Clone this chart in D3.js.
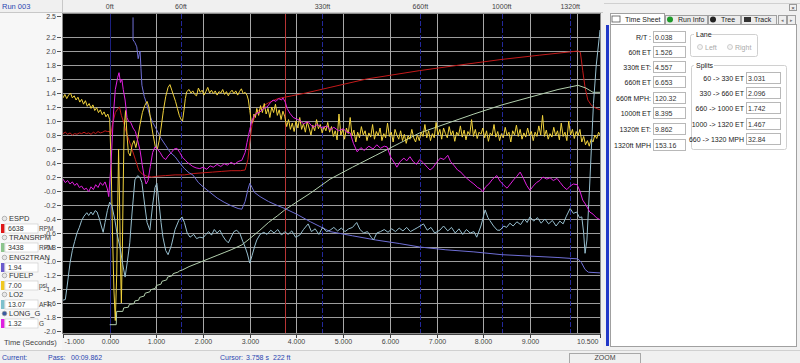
<!DOCTYPE html>
<html><head><meta charset="utf-8">
<script src="https://cdn.jsdelivr.net/npm/d3@7"></script>
<style>
html,body{margin:0;padding:0;background:#f0f0f0;overflow:hidden}
svg text{font-family:"Liberation Sans",Arial,sans-serif}
</style></head><body>
<svg id="c" width="800" height="363"></svg>
<script>
// ---------- data ----------
const xTickValues=[-1,0,1,2,3,4,5,6,7,8,9,10.5];
const xTickLabels=["-1.000","0.000","1.000","2.000","3.000","4.000","5.000","6.000","7.000","8.000","9.000","10.500"];
const yTickValues=[2.5,2.2,2.0,1.8,1.6,1.4,1.2,1.0,0.8,0.6,0.4,0.2,0,-0.2,-0.4,-0.6,-0.8,-1.0,-1.2,-1.4,-1.6,-1.8,-2.0];
const yTickLabels=["2.5","2.2","2.0","1.8","1.6","1.4","1.2","1.0","0.8","0.6","0.4","0.2","-0.0","-0.2","-0.4","-0.6","-0.8","-1.0","-1.2","-1.4","-1.6","-1.8","-2.0"];
const gridYValues=[2.2,2.0,1.8,1.6,1.4,1.2,1.0,0.8,0.6,0.4,0.2,0,-0.2,-0.4,-0.6,-0.8,-1.0,-1.2,-1.4,-1.6,-1.8];
const gridXValues=[1,2,3,4,5,6,7,8,9,10];
const markerNames=["0ft","60ft","330ft","660ft","1000ft","1320ft"];
const markerTimes=[0,1.526,4.557,6.653,8.395,9.862];
const cursorTime=3.758;

const espd=[[-1.00,0.82],[-0.95,0.84],[-0.90,0.81],[-0.85,0.83],[-0.80,0.80],[-0.75,0.82],[-0.70,0.81],[-0.65,0.83],[-0.60,0.82],[-0.55,0.84],[-0.50,0.82],[-0.45,0.83],[-0.40,0.81],[-0.35,0.84],[-0.30,0.82],[-0.25,0.85],[-0.20,0.83],[-0.15,0.84],[-0.10,0.86],[-0.05,0.85],[0.00,0.85],[0.02,0.80],[0.06,0.95],[0.12,1.12],[0.18,1.18],[0.21,1.20],[0.25,1.08],[0.30,0.98],[0.35,0.85],[0.45,0.65],[0.55,0.45],[0.62,0.30],[0.70,0.24],[0.80,0.21],[0.90,0.20],[1.00,0.21],[1.20,0.22],[1.40,0.23],[1.60,0.23],[1.80,0.25],[2.00,0.26],[2.20,0.27],[2.40,0.28],[2.60,0.29],[2.80,0.29],[2.90,0.30],[2.96,0.45],[3.00,0.70],[3.05,0.95],[3.10,1.05],[3.15,1.12],[3.22,1.17],[3.30,1.22],[3.40,1.26],[3.50,1.29],[3.60,1.32],[3.75,1.34],[3.90,1.36],[4.20,1.40],[4.72,1.48],[5.50,1.60],[6.64,1.72],[7.50,1.80],[8.40,1.88],[9.20,1.94],[10.03,2.00],[10.08,1.98],[10.13,1.72],[10.18,1.48],[10.24,1.30],[10.32,1.22],[10.42,1.18],[10.50,1.16]];

const transrpm=[[0.00,-1.91],[0.14,-1.91],[0.15,-1.72],[0.28,-1.72],[0.30,-1.67],[0.40,-1.66],[0.42,-1.62],[0.52,-1.61],[0.54,-1.57],[0.62,-1.56],[0.64,-1.52],[0.74,-1.50],[0.76,-1.46],[0.86,-1.44],[0.88,-1.41],[0.98,-1.39],[1.00,-1.35],[1.10,-1.33],[1.12,-1.29],[1.22,-1.27],[1.24,-1.23],[1.34,-1.21],[1.36,-1.18],[1.46,-1.16],[1.50,-1.14],[1.55,-1.13],[1.70,-1.08],[1.85,-1.04],[2.00,-1.00],[2.15,-0.96],[2.30,-0.92],[2.45,-0.88],[2.60,-0.84],[2.83,-0.77],[3.00,-0.68],[3.20,-0.57],[3.40,-0.45],[3.60,-0.35],[3.75,-0.27],[4.00,-0.16],[4.30,-0.03],[4.72,0.17],[5.20,0.34],[5.70,0.51],[6.20,0.68],[6.64,0.83],[7.20,0.96],[7.80,1.10],[8.40,1.23],[9.00,1.34],[9.60,1.45],[10.03,1.51],[10.20,1.47],[10.35,1.41],[10.50,1.41]];

const eng2tran=[[0.50,2.48],[0.50,2.16],[0.54,2.12],[0.58,2.06],[0.61,1.89],[0.63,1.95],[0.65,2.00],[0.67,1.75],[0.69,1.51],[0.74,1.35],[0.78,1.27],[0.85,1.10],[0.92,0.98],[1.01,0.87],[1.10,0.75],[1.20,0.65],[1.30,0.55],[1.40,0.49],[1.50,0.40],[1.60,0.32],[1.70,0.26],[1.78,0.23],[1.90,0.12],[2.00,0.06],[2.15,-0.02],[2.30,-0.10],[2.45,-0.16],[2.60,-0.21],[2.75,-0.25],[2.83,-0.26],[2.90,-0.15],[2.96,0.02],[3.00,0.11],[3.05,0.05],[3.10,-0.02],[3.22,-0.08],[3.40,-0.15],[3.60,-0.21],[3.75,-0.25],[4.00,-0.33],[4.30,-0.44],[4.72,-0.58],[5.20,-0.64],[5.70,-0.70],[6.20,-0.75],[6.64,-0.80],[7.20,-0.84],[7.80,-0.87],[8.40,-0.91],[9.00,-0.93],[9.60,-0.95],[10.03,-0.97],[10.10,-1.02],[10.18,-1.12],[10.25,-1.16],[10.50,-1.17]];

const fuelp=[[-1.00,1.33],[-0.96,1.38],[-0.92,1.32],[-0.88,1.37],[-0.84,1.40],[-0.80,1.33],[-0.76,1.36],[-0.72,1.30],[-0.68,1.34],[-0.64,1.27],[-0.60,1.31],[-0.56,1.24],[-0.52,1.29],[-0.48,1.21],[-0.44,1.25],[-0.40,1.18],[-0.36,1.23],[-0.32,1.15],[-0.28,1.19],[-0.24,1.12],[-0.20,1.16],[-0.16,1.09],[-0.12,1.13],[-0.08,1.06],[-0.04,1.10],[0.00,1.02],
[0.03,0.40],[0.06,-0.60],[0.09,-1.40],[0.12,-1.85],[0.15,-1.20],[0.17,-0.30],[0.19,0.60],[0.21,-0.10],[0.23,-1.00],[0.25,-1.60],[0.27,-0.90],[0.29,0.10],[0.31,0.90],[0.34,1.15],[0.37,0.80],[0.40,0.55],[0.44,0.50],[0.48,0.66],[0.52,0.72],[0.56,0.62],[0.60,0.75],[0.65,0.95],[0.70,1.12],[0.75,1.22],[0.80,1.28],[0.84,1.20],[0.88,1.00],[0.93,0.80],[0.98,0.62],[1.02,0.60],[1.06,0.72],[1.10,0.90],[1.15,1.15],[1.20,1.35],[1.25,1.48],[1.29,1.52],[1.33,1.44],[1.37,1.36],[1.41,1.28],[1.45,1.18],[1.49,1.08],[1.53,1.02],[1.56,1.00],[1.59,1.15],[1.62,1.32],[1.65,1.42],
[1.70,1.45],[1.74,1.40],[1.78,1.43],[1.82,1.38],[1.86,1.36],[1.90,1.47],[1.94,1.41],[1.98,1.44],[2.02,1.37],[2.06,1.42],[2.10,1.48],[2.14,1.40],[2.18,1.44],[2.22,1.39],[2.26,1.43],[2.30,1.37],[2.34,1.42],[2.38,1.40],[2.42,1.45],[2.46,1.38],[2.50,1.42],[2.54,1.36],[2.58,1.41],[2.62,1.44],[2.66,1.39],[2.70,1.43],[2.74,1.37],[2.78,1.42],[2.82,1.46],[2.86,1.39],[2.90,1.41],[2.94,1.37],[2.97,1.30],
[3.00,1.15],[3.03,1.00],[3.06,0.98],[3.09,1.10],[3.12,1.05],[3.15,1.18],[3.19,1.08],[3.23,1.22],[3.27,1.12],[3.31,1.25],[3.35,1.10],[3.39,1.18],[3.43,1.05],[3.47,1.20],[3.51,1.12],[3.55,1.24],[3.59,1.08],[3.63,1.16],[3.67,1.02],[3.71,1.14],[3.75,1.06],[3.79,0.92],[3.83,1.02],[3.87,0.88],[3.91,0.97],[3.95,0.85],[3.99,1.00],[4.03,0.90],[4.07,1.05],[4.11,0.88],[4.15,0.96],[4.19,0.84],[4.23,0.99],[4.27,0.90],[4.31,0.80],[4.35,0.94],[4.39,0.86],[4.43,1.02],[4.47,0.89],[4.51,0.95],[4.55,0.83],[4.59,0.92],[4.63,0.86],[4.67,0.98],[4.71,0.84],
[4.75,0.92],[4.79,0.78],[4.83,0.86],[4.87,0.73],[4.91,1.10],[4.95,0.80],[4.99,0.88],[5.03,0.74],[5.07,0.90],[5.11,0.82],[5.15,1.05],[5.19,0.79],[5.23,0.87],[5.27,0.70],[5.31,0.84],[5.35,0.76],[5.39,0.92],[5.43,0.80],[5.47,0.86],[5.51,0.72],[5.55,0.83],[5.59,0.77],[5.63,0.95],[5.67,0.74],[5.71,0.85],[5.75,0.79],[5.79,0.90],[5.83,0.72],[5.87,0.82],[5.91,0.76],[5.95,0.97],[5.99,0.78],[6.03,0.84],[6.07,0.70],[6.11,0.88],[6.15,0.80],[6.19,0.74],[6.23,0.86],[6.27,0.72],[6.31,0.81],[6.35,0.68],[6.39,0.79],[6.43,0.74],[6.47,0.88],[6.51,0.76],[6.55,0.70],[6.59,0.80],[6.63,0.72],[6.67,0.84],[6.71,0.78],[6.75,0.95],[6.79,0.76],[6.83,0.86],[6.87,0.72],[6.91,0.82],[6.95,0.76],[6.99,0.98],[7.03,0.80],[7.07,0.88],[7.11,0.74],[7.15,0.90],[7.19,0.82],[7.23,0.76],[7.27,0.92],[7.31,0.80],[7.35,0.86],[7.39,0.71],[7.43,0.84],[7.47,0.79],[7.51,0.93],[7.55,0.77],[7.59,0.87],[7.63,0.73],[7.67,0.85],[7.71,0.80],[7.75,1.02],[7.79,0.78],[7.83,0.88],[7.87,0.75],[7.91,0.84],[7.95,0.81],[7.99,0.90],[8.03,0.76],[8.07,0.86],[8.11,0.71],[8.15,0.83],[8.19,0.79],[8.23,0.95],[8.27,0.77],[8.31,0.85],[8.35,0.72],[8.39,0.82],[8.43,0.76],[8.47,0.91],[8.51,0.79],[8.55,0.84],[8.59,0.70],[8.63,0.86],[8.67,0.80],[8.71,0.94],[8.75,0.78],[8.79,0.88],[8.83,0.74],[8.87,0.83],[8.91,0.77],[8.95,0.90],[8.99,0.79],[9.03,0.85],[9.07,0.72],[9.11,0.84],[9.15,0.78],[9.19,0.93],[9.23,0.80],[9.27,1.08],[9.31,0.78],[9.35,0.87],[9.39,0.74],[9.43,0.82],[9.47,0.77],[9.51,0.91],[9.55,0.79],[9.59,0.86],[9.63,0.73],[9.67,0.97],[9.71,0.78],[9.75,0.84],[9.79,0.72],[9.83,1.00],[9.87,0.80],[9.91,0.88],[9.95,0.75],[9.99,0.85],[10.03,0.79],[10.07,0.88],[10.11,0.70],[10.15,0.78],[10.19,0.66],[10.23,0.72],[10.27,0.64],[10.31,0.74],[10.35,0.70],[10.39,0.80],[10.43,0.75],[10.47,0.84],[10.50,0.80]];

const lo2=[[-1.00,-1.56],[-0.95,-1.55],[-0.90,-1.30],[-0.85,-1.03],[-0.80,-0.85],[-0.75,-0.72],[-0.70,-0.60],[-0.65,-0.52],[-0.60,-0.42],[-0.55,-0.36],[-0.49,-0.31],[-0.45,-0.35],[-0.40,-0.30],[-0.36,-0.34],[-0.31,-0.28],[-0.27,-0.30],[-0.22,-0.40],[-0.18,-0.50],[-0.14,-0.59],[-0.10,-0.45],[-0.05,-0.28],[0.00,-0.16],[0.05,-0.22],[0.11,-0.41],[0.16,-0.62],[0.22,-0.80],[0.28,-1.05],[0.33,-1.23],[0.38,-1.00],[0.43,-0.74],[0.48,-0.30],[0.54,0.16],[0.60,0.22],[0.65,0.19],[0.69,0.12],[0.75,-0.20],[0.80,-0.45],[0.86,-0.56],[0.92,-0.20],[0.97,0.05],[1.01,0.11],[1.06,-0.20],[1.10,-0.45],[1.14,-0.66],[1.20,-0.85],[1.25,-0.91],[1.32,-0.78],[1.40,-0.55],[1.48,-0.42],[1.55,-0.37],[1.60,-0.45],[1.66,-0.60],[1.72,-0.66],[1.80,-0.62],[1.86,-0.68],[1.93,-0.66],[2.00,-0.67],[2.06,-0.62],[2.12,-0.58],[2.18,-0.63],[2.24,-0.55],[2.30,-0.60],[2.36,-0.56],[2.42,-0.64],[2.48,-0.70],[2.54,-0.74],[2.60,-0.66],[2.66,-0.58],[2.72,-0.56],[2.79,-0.61],[2.85,-0.72],[2.90,-0.80],[2.95,-0.90],[3.00,-1.03],[3.05,-0.92],[3.10,-0.80],[3.15,-0.70],[3.22,-0.62],[3.30,-0.59],[3.37,-0.62],[3.45,-0.56],[3.52,-0.60],[3.60,-0.55],[3.68,-0.63],[3.75,-0.58],[3.82,-0.62],[3.90,-0.57],[3.98,-0.66],[4.07,-0.63],[4.15,-0.55],[4.25,-0.47],[4.32,-0.58],[4.40,-0.54],[4.48,-0.62],[4.56,-0.52],[4.64,-0.58],[4.72,-0.56],[4.80,-0.52],[4.88,-0.57],[4.96,-0.53],[5.04,-0.58],[5.12,-0.54],[5.20,-0.52],[5.29,-0.45],[5.36,-0.55],[5.44,-0.60],[5.52,-0.58],[5.60,-0.66],[5.65,-0.70],[5.72,-0.60],[5.80,-0.58],[5.88,-0.55],[5.96,-0.59],[6.04,-0.54],[6.12,-0.58],[6.20,-0.53],[6.28,-0.57],[6.36,-0.52],[6.44,-0.58],[6.52,-0.55],[6.60,-0.52],[6.72,-0.47],[6.80,-0.56],[6.88,-0.52],[6.96,-0.60],[7.07,-0.56],[7.15,-0.50],[7.24,-0.57],[7.32,-0.52],[7.40,-0.60],[7.48,-0.54],[7.56,-0.62],[7.64,-0.55],[7.72,-0.60],[7.80,-0.58],[7.86,-0.66],[7.95,-0.50],[8.04,-0.27],[8.10,-0.38],[8.14,-0.42],[8.22,-0.50],[8.30,-0.56],[8.36,-0.56],[8.44,-0.50],[8.50,-0.52],[8.57,-0.46],[8.64,-0.50],[8.72,-0.44],[8.80,-0.48],[8.88,-0.40],[8.94,-0.45],[9.00,-0.37],[9.08,-0.43],[9.16,-0.38],[9.24,-0.46],[9.32,-0.40],[9.40,-0.47],[9.48,-0.42],[9.56,-0.50],[9.64,-0.43],[9.71,-0.47],[9.78,-0.36],[9.86,-0.25],[9.93,-0.32],[10.00,-0.30],[10.06,-0.38],[10.11,-0.37],[10.15,-0.60],[10.18,-0.89],[10.22,-0.70],[10.28,0.10],[10.36,1.25],[10.42,1.80],[10.49,2.23],[10.50,2.30]];

const longG=[[-1.00,0.17],[-0.95,0.12],[-0.90,0.15],[-0.85,0.10],[-0.80,0.13],[-0.75,0.08],[-0.70,0.11],[-0.65,0.05],[-0.60,0.07],[-0.55,0.02],[-0.50,0.04],[-0.45,-0.01],[-0.40,0.06],[-0.35,0.02],[-0.30,0.09],[-0.25,0.05],[-0.20,0.12],[-0.15,0.08],[-0.10,0.13],[-0.05,0.03],[-0.02,-0.08],[0.03,0.40],[0.08,1.10],[0.12,1.45],[0.17,1.62],[0.20,1.69],[0.23,1.55],[0.26,1.60],[0.29,1.45],[0.33,1.30],[0.37,1.05],[0.40,1.00],[0.45,0.98],[0.50,0.90],[0.55,0.85],[0.60,0.72],[0.65,0.58],[0.70,0.36],[0.74,0.20],[0.78,0.10],[0.82,0.15],[0.87,0.35],[0.92,0.55],[0.97,0.63],[1.02,0.60],[1.08,0.55],[1.14,0.48],[1.20,0.45],[1.25,0.50],[1.32,0.55],[1.38,0.60],[1.44,0.61],[1.50,0.55],[1.56,0.48],[1.62,0.44],[1.66,0.41],[1.72,0.38],[1.78,0.35],[1.85,0.33],[1.93,0.32],[2.00,0.34],[2.08,0.31],[2.15,0.36],[2.22,0.34],[2.30,0.38],[2.38,0.35],[2.45,0.39],[2.52,0.37],[2.60,0.41],[2.67,0.38],[2.75,0.42],[2.83,0.44],[2.90,0.55],[2.94,0.69],[3.00,0.88],[3.05,1.01],[3.10,1.08],[3.15,1.11],[3.22,1.13],[3.30,1.18],[3.37,1.20],[3.44,1.26],[3.50,1.30],[3.56,1.28],[3.62,1.32],[3.68,1.30],[3.71,1.33],[3.76,1.27],[3.80,1.18],[3.86,1.11],[3.93,1.05],[4.00,1.03],[4.07,1.01],[4.15,0.96],[4.25,0.99],[4.35,0.91],[4.45,0.95],[4.55,0.90],[4.65,0.93],[4.72,0.87],[4.80,0.91],[4.90,0.86],[5.00,0.89],[5.08,0.84],[5.15,0.83],[5.22,0.68],[5.30,0.56],[5.38,0.62],[5.45,0.58],[5.55,0.64],[5.64,0.60],[5.72,0.66],[5.80,0.61],[5.88,0.64],[5.94,0.63],[6.02,0.48],[6.10,0.40],[6.15,0.34],[6.22,0.42],[6.30,0.47],[6.36,0.43],[6.43,0.49],[6.50,0.42],[6.57,0.38],[6.64,0.45],[6.72,0.40],[6.80,0.34],[6.86,0.30],[6.92,0.33],[7.00,0.41],[7.08,0.47],[7.16,0.45],[7.24,0.51],[7.30,0.42],[7.38,0.36],[7.45,0.30],[7.52,0.27],[7.57,0.23],[7.65,0.18],[7.72,0.14],[7.80,0.10],[7.88,0.05],[7.94,0.03],[7.99,-0.01],[8.05,0.06],[8.12,0.10],[8.20,0.17],[8.29,0.22],[8.36,0.14],[8.43,0.09],[8.51,0.04],[8.58,0.10],[8.65,0.16],[8.72,0.21],[8.79,0.27],[8.86,0.18],[8.93,0.08],[9.00,0.01],[9.07,0.07],[9.14,0.12],[9.21,0.15],[9.28,0.20],[9.36,0.17],[9.43,0.19],[9.50,0.15],[9.58,0.18],[9.65,0.12],[9.72,0.06],[9.79,0.02],[9.86,0.07],[9.93,0.10],[10.01,0.09],[10.07,0.00],[10.13,-0.13],[10.20,-0.20],[10.28,-0.30],[10.35,-0.33],[10.42,-0.38],[10.50,-0.41]];

const channelNames=["ESPD","TRANSRPM","ENG2TRAN","FUELP","LO2","LONG_G"];
const channelReadouts=["6638","3438","1.94","7.00","13.07","1.32"];
const channelUnits=["RPM","RPM","","psi","AFR","G"];
const channelSeries=[espd,transrpm,eng2tran,fuelp,lo2,longG];

const timeSheetLabels=["R/T :","60ft ET","330ft ET:","660ft ET","660ft MPH:","1000ft ET","1320ft ET:","1320ft MPH"];
const timeSheetValues=["0.038","1.526","4.557","6.653","120.32","8.395","9.862","153.16"];
const splitLabels=["60 -> 330 ET","330 -> 660 ET","660 -> 1000 ET","1000 -> 1320 ET","660 -> 1320 MPH"];
const splitValues=["3.031","2.096","1.742","1.467","32.84"];
const tabNames=["Time Sheet","Run Info","Tree","Track"];

// ---------- styles ----------
const lineColors=["#c41a1a","#b3d0ae","#6f6fd6","#f2d33c","#97bfcf","#e21fe0"];
const swatchColors=["#e01818","#8cc48c","#6a5acd","#f0c820","#7fc0cc","#e020e0"];

const svg=d3.select("#c");
const L=63,R=600,T=14,B=333;
const x=d3.scaleLinear().domain([-1,10.5]).range([L,R]);
const y=d3.scaleLinear().domain([-2,2.5]).range([331,16]);

// backgrounds
svg.append("rect").attr("x",0).attr("y",0).attr("width",800).attr("height",363).attr("fill","#f0f0f0");
svg.append("rect").attr("x",0).attr("y",13).attr("width",62).attr("height",337).attr("fill","#f7f7f7");
svg.append("rect").attr("x",62).attr("y",333).attr("width",541).attr("height",17).attr("fill","#f4f4f4");
// header
svg.append("rect").attr("x",0).attr("y",0).attr("width",603).attr("height",12).attr("fill","#f0f0f0");
svg.append("line").attr("x1",0).attr("x2",603).attr("y1",12.5).attr("y2",12.5).attr("stroke","#c8c8c8");
svg.append("line").attr("x1",62.5).attr("x2",62.5).attr("y1",0).attr("y2",13).attr("stroke","#c8c8c8");
svg.append("text").attr("x",2).attr("y",9).attr("font-size",7.5).attr("fill","#2a46b0").text("Run 003");
svg.selectAll("text.mk").data(markerNames).join("text").attr("class","mk")
  .attr("x",(d,i)=>x(markerTimes[i])).attr("y",9).attr("text-anchor","middle")
  .attr("font-size",7).attr("fill","#444").text(d=>d);

// plot
svg.append("rect").attr("x",L).attr("y",T).attr("width",R-L).attr("height",B-T).attr("fill","#000");
const defs=svg.append("defs");
defs.append("clipPath").attr("id","clip").append("rect").attr("x",L).attr("y",T).attr("width",R-L).attr("height",B-T);
const g=svg.append("g").attr("clip-path","url(#clip)");
g.selectAll("line.gy").data(gridYValues).join("line").attr("class","gy")
  .attr("x1",L).attr("x2",R).attr("y1",d=>Math.round(y(d))+0.5).attr("y2",d=>Math.round(y(d))+0.5)
  .attr("stroke","#9c9c9c").attr("stroke-width",1);
g.selectAll("line.gx").data(gridXValues).join("line").attr("class","gx")
  .attr("y1",T).attr("y2",B).attr("x1",d=>Math.round(x(d))+0.5).attr("x2",d=>Math.round(x(d))+0.5)
  .attr("stroke","#a8a8a8").attr("stroke-width",1);
g.selectAll("line.mk").data(markerTimes).join("line").attr("class","mk")
  .attr("y1",T).attr("y2",B).attr("x1",d=>Math.round(x(d))+0.5).attr("x2",d=>Math.round(x(d))+0.5)
  .attr("stroke",(d,i)=>i===0?"#1c2080":"#23289a").attr("stroke-width",1).attr("stroke-dasharray",(d,i)=>i===0?null:"5,2");
g.append("line").attr("y1",T).attr("y2",B).attr("x1",Math.round(x(cursorTime))+0.5).attr("x2",Math.round(x(cursorTime))+0.5)
  .attr("stroke","#b83434").attr("stroke-width",1);

const line=d3.line().x(d=>x(d[0])).y(d=>y(d[1]));
channelSeries.forEach((s,i)=>{
  g.append("path").datum(s).attr("d",line).attr("fill","none").attr("stroke",lineColors[i]).attr("stroke-width",1).attr("stroke-linejoin","round");
});
svg.append("rect").attr("x",L-0.5).attr("y",T-0.5).attr("width",R-L+1).attr("height",B-T+1).attr("fill","none").attr("stroke","#8a8a8a");

// y axis
const ya=svg.append("g");
yTickValues.forEach((v,i)=>{
  const yy=y(v);
  ya.append("line").attr("x1",57).attr("x2",61).attr("y1",Math.round(yy)+0.5).attr("y2",Math.round(yy)+0.5).attr("stroke","#555");
  ya.append("text").attr("x",56).attr("y",yy+2.5).attr("text-anchor","end").attr("font-size",7).attr("fill","#444").text(yTickLabels[i]);
});

// x axis
svg.append("line").attr("x1",L).attr("x2",R).attr("y1",334.5).attr("y2",334.5).attr("stroke","#444");
xTickValues.forEach((v,i)=>{
  const xx=Math.round(x(v))+0.5;
  svg.append("line").attr("x1",xx).attr("x2",xx).attr("y1",334).attr("y2",338).attr("stroke","#444");
  const anchor=i===0?"start":(i===xTickValues.length-1?"end":"middle");
  svg.append("text").attr("x",i===0?xx+1:(i===xTickValues.length-1?xx-2:xx)).attr("y",344).attr("text-anchor",anchor)
    .attr("font-size",7).attr("fill","#444").text(xTickLabels[i]);
});
svg.append("text").attr("x",4).attr("y",345).attr("font-size",7.5).attr("fill","#444").text("Time (Seconds)");

// channel legend
channelNames.forEach((n,i)=>{
  const ny=[221,240,260,278,297,316][i];
  svg.append("circle").attr("cx",4.5).attr("cy",ny-2.5).attr("r",2.3).attr("fill",i===5?"#3a5aa0":"#e8e8e8").attr("stroke","#999").attr("stroke-width",0.7);
  svg.append("text").attr("x",9).attr("y",ny).attr("font-size",7.5).attr("fill","#333").text(n);
  const by=ny+3;
  svg.append("rect").attr("x",1).attr("y",by).attr("width",3.5).attr("height",9).attr("fill",swatchColors[i]);
  svg.append("rect").attr("x",5).attr("y",by).attr("width",33).attr("height",9).attr("fill","#fff").attr("stroke","#c8c8c8").attr("stroke-width",0.6);
  svg.append("text").attr("x",8).attr("y",by+7).attr("font-size",7).attr("fill","#333").text(channelReadouts[i]);
  svg.append("text").attr("x",39).attr("y",by+7).attr("font-size",6.5).attr("fill","#444").text(channelUnits[i]);
});

// status bar
svg.append("line").attr("x1",0).attr("x2",800).attr("y1",350.5).attr("y2",350.5).attr("stroke","#d0d0d0");
const st=[["Current:",2],["Pass:",48],["00:09.862",71],["Cursor:",220],["3.758 s",246],["222 ft",273]];
st.forEach(s=>svg.append("text").attr("x",s[1]).attr("y",360).attr("font-size",7).attr("fill","#2a46b0").text(s[0]));
svg.append("rect").attr("x",569.5).attr("y",353.5).attr("width",71).attr("height",12).attr("fill","#f0f0f0").attr("stroke","#a8a8a8");
svg.append("text").attr("x",605).attr("y",360).attr("text-anchor","middle").attr("font-size",7).attr("fill","#444").text("ZOOM");

// right panel
svg.append("rect").attr("x",603).attr("y",0).attr("width",197).attr("height",350).attr("fill","#f0f0f0");
svg.append("line").attr("x1",604).attr("x2",800).attr("y1",3.5).attr("y2",3.5).attr("stroke","#d0d0d0");
svg.append("rect").attr("x",789.5).attr("y",4.5).attr("width",7).attr("height",6).attr("fill","#f0f0f0").attr("stroke","#999");
svg.append("text").attr("x",793).attr("y",10).attr("text-anchor","middle").attr("font-size",6).attr("fill","#333").text("×");
svg.append("rect").attr("x",610.5).attr("y",24.5).attr("width",186).attr("height",322).attr("fill","#fff").attr("stroke","#a0a0a0");
svg.append("rect").attr("x",606).attr("y",25).attr("width",3).attr("height",321).attr("fill","#2238c8");
// tabs
const tabX=[610,665,708,741], tabW=[54,42,32,35];
tabNames.forEach((t,i)=>{
  const sel=i===0;
  svg.append("rect").attr("x",tabX[i]+0.5).attr("y",sel?13.5:15.5).attr("width",tabW[i]).attr("height",sel?11:9)
    .attr("fill",sel?"#fff":"#ececec").attr("stroke","#a0a0a0");
  svg.append("text").attr("x",tabX[i]+(sel?15:13)).attr("y",22).attr("font-size",7).attr("fill","#222").text(t);
});
svg.append("rect").attr("x",612).attr("y",16).attr("width",8).attr("height",6).attr("fill","none").attr("stroke","#555").attr("stroke-width",0.8);
svg.append("circle").attr("cx",670).attr("cy",19.5).attr("r",3).attr("fill","#1e9a2a");
svg.append("circle").attr("cx",713).attr("cy",19.5).attr("r",3).attr("fill","#222");
svg.append("rect").attr("x",744).attr("y",17).attr("width",7).attr("height",5).attr("fill","#333");
[778,787].forEach((ax,i)=>{
  svg.append("rect").attr("x",ax+0.5).attr("y",15.5).attr("width",8).attr("height",9).attr("fill","#eee").attr("stroke","#a0a0a0");
  svg.append("text").attr("x",ax+4.5).attr("y",22).attr("text-anchor","middle").attr("font-size",5).attr("fill","#777").text(i===0?"◂":"▸");
});
// time sheet fields
const rowY=[37,52,67,82,98,113,129,145];
timeSheetLabels.forEach((lab,i)=>{
  svg.append("text").attr("x",651).attr("y",rowY[i]+2.5).attr("text-anchor","end").attr("font-size",7).attr("fill","#222").text(lab);
  svg.append("rect").attr("x",653.5).attr("y",rowY[i]-5.5).attr("width",32).attr("height",11).attr("fill","#fff").attr("stroke","#b8b8b8");
  svg.append("text").attr("x",655).attr("y",rowY[i]+2.5).attr("font-size",7).attr("fill","#333").text(timeSheetValues[i]);
});
// lane group
svg.append("rect").attr("x",690.5).attr("y",34.5).attr("width",67).attr("height",22).attr("fill","none").attr("stroke","#d0d0d0").attr("rx",2);
svg.append("rect").attr("x",694).attr("y",31).attr("width",17).attr("height",7).attr("fill","#fff");
svg.append("text").attr("x",696).attr("y",37).attr("font-size",7).attr("fill","#222").text("Lane");
[["Left",700],["Right",730]].forEach(r=>{
  svg.append("circle").attr("cx",r[1]).attr("cy",47).attr("r",2.5).attr("fill","#f4f4f4").attr("stroke","#bbb").attr("stroke-width",0.7);
  svg.append("text").attr("x",r[1]+5).attr("y",49.5).attr("font-size",7).attr("fill","#aaa").text(r[0]);
});
// splits group
svg.append("rect").attr("x",691.5).attr("y",65.5).attr("width",95).attr("height",84).attr("fill","none").attr("stroke","#d0d0d0").attr("rx",2);
svg.append("rect").attr("x",694).attr("y",62).attr("width",20).attr("height",7).attr("fill","#fff");
svg.append("text").attr("x",696).attr("y",68).attr("font-size",7).attr("fill","#222").text("Splits");
const splitY=[78,93,108,124,139];
splitLabels.forEach((lab,i)=>{
  svg.append("text").attr("x",744).attr("y",splitY[i]+2.5).attr("text-anchor","end").attr("font-size",7).attr("fill","#222").text(lab);
  svg.append("rect").attr("x",746.5).attr("y",splitY[i]-5.5).attr("width",34).attr("height",11).attr("fill","#fff").attr("stroke","#b8b8b8");
  svg.append("text").attr("x",748).attr("y",splitY[i]+2.5).attr("font-size",7).attr("fill","#333").text(splitValues[i]);
});
</script>
</body></html>
